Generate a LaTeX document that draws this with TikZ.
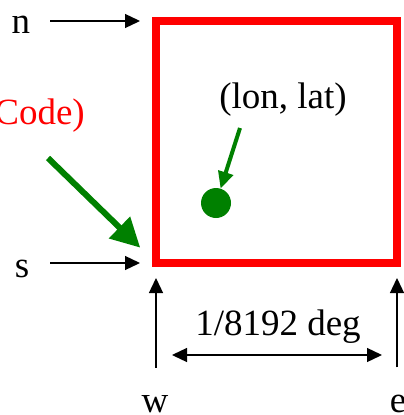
\documentclass[tikz,border=0pt]{standalone}
\usepackage{fontspec}
\setmainfont{Liberation Serif}
\usetikzlibrary{
    arrows.meta,
    positioning
}
\definecolor{darkgreen}{rgb}{0.0, 0.5, 0.0}
\tikzstyle{cell} = [
    rectangle,
    draw=red,
    line width=8pt,
    minimum width=241pt,
    minimum height=242pt,
    inner sep=0pt,
    outer sep=0pt
]
\tikzstyle{boxtext} = [
    inner sep=0pt,
    font=\fontsize{37}{44}\selectfont
]
\tikzstyle{spot} = [
    circle,
    fill=darkgreen,
    minimum size=30pt,
    inner sep=0pt,
    outer sep=0pt
]
\tikzstyle{arrow} = [
    -{Triangle[length=15pt, width=14pt]},
    line width=1.3pt,
    draw=black
]
\tikzstyle{dimarrow} = [
    {Triangle[length=15pt, width=14pt]}-{Triangle[length=15pt, width=14pt]},
    line width=1.3pt,
    draw=black
]
\tikzstyle{bigarrow} = [
    -{Triangle[length=29pt, width=29pt]},
    line width=6pt,
    draw=darkgreen
]
\tikzstyle{smallarrow} = [
    -{Triangle[length=17pt, width=15pt]},
    line width=4pt,
    draw=darkgreen
]

\begin{document}
\begin{tikzpicture}[x=1pt, y=-1pt]
        \useasboundingbox (0,0) rectangle (404,415);

        % Cell and point
        \node[cell] (cell) at (276.5,142) {};
        \node[spot] (pt) at (216,203) {};

        % Labels
        \node[boxtext, anchor=base] (n) at (21,33) {n};
        \node[boxtext, anchor=base] (s) at (22,277) {s};
        \node[boxtext, anchor=base] (w) at (155,412) {w};
        \node[boxtext, anchor=base] (e) at (398,412) {e};
        \node[boxtext, anchor=base] (size) at (278,335) {1/8192 deg};
        \node[boxtext, anchor=base] (lonlat) at (283,108) {(lon, lat)};
        \node[boxtext, anchor=base east, text=red] (code) at (85,124) {Code)};

        % Free ends
        \coordinate (codetail) at (48,158);
        \coordinate (pttail) at (240,128);
        \coordinate (wdim) at (155,355);
        \coordinate (edim) at (397,355);

        % Arrows
        \draw[arrow, shorten >=16pt] ([xshift=20pt]n.east |- cell.north west) -- (cell.north west);
        \draw[arrow, shorten >=16pt] ([xshift=21pt]s.east |- cell.south west) -- (cell.south west);
        \draw[arrow, shorten >=15pt] ([yshift=27pt]w.north -| cell.south west) -- (cell.south west);
        \draw[arrow, shorten >=15pt] ([yshift=27pt]e.north -| cell.south east) -- (cell.south east);
        \draw[dimarrow, shorten <=17pt, shorten >=15pt] (wdim) -- (edim);
        \draw[bigarrow, shorten >=22pt] (codetail) -- (cell.south west);
        \draw[smallarrow] (pttail) -- (pt);
    \end{tikzpicture}
\end{document}
